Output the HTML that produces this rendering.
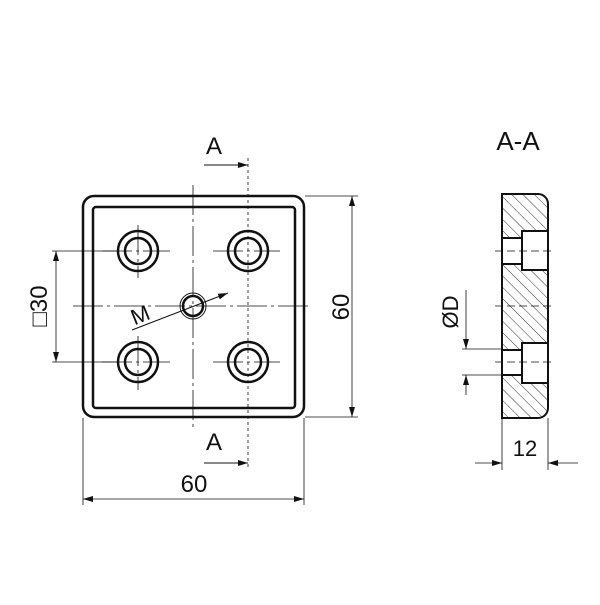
<!DOCTYPE html>
<html><head><style>body{margin:0;background:#fff}</style></head><body>
<svg width="600" height="600" viewBox="0 0 600 600" xmlns="http://www.w3.org/2000/svg" font-family="Liberation Sans, sans-serif">
<defs>
<marker id="ar" viewBox="0 0 10 6" refX="10" refY="3" markerWidth="10" markerHeight="6" orient="auto-start-reverse" markerUnits="userSpaceOnUse"><path d="M0,0L10,3L0,6z" fill="#111"/></marker>
<pattern id="h" width="8" height="8" patternUnits="userSpaceOnUse" patternTransform="rotate(-45)"><line x1="0" y1="0" x2="0" y2="8" stroke="#333" stroke-width="1"/></pattern>
</defs>
<g fill="none" stroke="#111">
<rect x="83" y="196" width="221" height="221" rx="11" stroke-width="2.5"/>
<rect x="93" y="207" width="202" height="201" rx="3" stroke-width="2.5"/>
<g stroke-width="0.8" stroke-dasharray="30,4,3,4">
<line x1="193" y1="185" x2="193" y2="430"/>
<line x1="73" y1="306" x2="310" y2="306"/>
<line x1="102" y1="251" x2="170" y2="251"/><line x1="102" y1="362" x2="170" y2="362"/>
<line x1="213" y1="251" x2="280" y2="251"/><line x1="213" y1="362" x2="280" y2="362"/>
<line x1="138" y1="225" x2="138" y2="278"/><line x1="138" y1="336" x2="138" y2="390"/>
</g>
<line x1="248" y1="158" x2="248" y2="470" stroke-width="0.8" stroke-dasharray="3,3"/>
<g stroke-width="2.5">
<circle cx="138" cy="251" r="20"/><circle cx="138" cy="251" r="13"/>
<circle cx="248" cy="251" r="20"/><circle cx="248" cy="251" r="13"/>
<circle cx="138" cy="362" r="20"/><circle cx="138" cy="362" r="13"/>
<circle cx="248" cy="362" r="20"/><circle cx="248" cy="362" r="13"/>
<circle cx="193" cy="306" r="10"/>
</g>
<circle cx="193" cy="306" r="13" stroke-width="1"/>
<line x1="132" y1="330" x2="228" y2="293" stroke-width="1" marker-end="url(#ar)"/>
<g stroke-width="0.8">
<line x1="305" y1="196" x2="358" y2="196"/><line x1="305" y1="417" x2="358" y2="417"/>
<line x1="352" y1="196" x2="352" y2="417" marker-start="url(#ar)" marker-end="url(#ar)"/>
<line x1="83" y1="418" x2="83" y2="505"/><line x1="304" y1="418" x2="304" y2="505"/>
<line x1="83" y1="499" x2="304" y2="499" marker-start="url(#ar)" marker-end="url(#ar)"/>
<line x1="52" y1="251" x2="118" y2="251"/><line x1="52" y1="362" x2="118" y2="362"/>
<line x1="56" y1="251" x2="56" y2="362" marker-start="url(#ar)" marker-end="url(#ar)"/>
<line x1="204" y1="165" x2="248" y2="165" marker-end="url(#ar)" stroke-width="1"/>
<line x1="204" y1="463" x2="248" y2="463" marker-end="url(#ar)" stroke-width="1"/>
</g>
<path d="M502,194 H538 A10,10 0 0 1 548,204 V408 A10,10 0 0 1 538,418 H502 Z" fill="url(#h)" stroke="none"/>
<rect x="502" y="238" width="20" height="26" fill="#fff" stroke="none"/>
<rect x="522" y="231" width="26" height="39" fill="#fff" stroke="none"/>
<rect x="502" y="350" width="20" height="25" fill="#fff" stroke="none"/>
<rect x="522" y="343" width="26" height="40" fill="#fff" stroke="none"/>
<path d="M502,194 H538 A10,10 0 0 1 548,204 V408 A10,10 0 0 1 538,418 H502 Z" stroke-width="2"/>
<path d="M502,238 H522 V231 H548 M548,270 H522 V264 H502 M502,350 H522 V343 H548 M548,383 H522 V375 H502 M522,238 V264 M522,350 V375" stroke-width="2"/>
<g stroke-width="0.8" stroke-dasharray="8,4">
<line x1="495" y1="251" x2="555" y2="251"/><line x1="495" y1="306" x2="555" y2="306"/><line x1="495" y1="362" x2="555" y2="362"/>
</g>
<g stroke-width="0.8">
<line x1="462" y1="349" x2="502" y2="349"/><line x1="462" y1="375" x2="502" y2="375"/>
<line x1="466" y1="290" x2="466" y2="349" marker-end="url(#ar)"/>
<line x1="466" y1="395" x2="466" y2="375" marker-end="url(#ar)"/>
<line x1="502" y1="418" x2="502" y2="470"/><line x1="548" y1="418" x2="548" y2="470"/>
<line x1="475" y1="463" x2="502" y2="463" marker-end="url(#ar)"/>
<line x1="578" y1="463" x2="548" y2="463" marker-end="url(#ar)"/>
</g>
</g>
<g fill="#111" font-size="24">
<text x="206" y="154">A</text>
<text x="206" y="450">A</text>
<text x="194" y="492" text-anchor="middle">60</text>
<text transform="translate(349,307) rotate(-90)" text-anchor="middle">60</text>
<text transform="translate(47,306) rotate(-90)" text-anchor="middle">□30</text>
<text transform="translate(143,322) rotate(-22)" font-size="22" text-anchor="middle">M</text>
<text x="518" y="150" text-anchor="middle" font-size="26">A-A</text>
<text x="525" y="456" text-anchor="middle" font-size="22">12</text>
<text transform="translate(458,312) rotate(-90)" text-anchor="middle" font-size="22">ØD</text>
</g>
</svg>
</body></html>
